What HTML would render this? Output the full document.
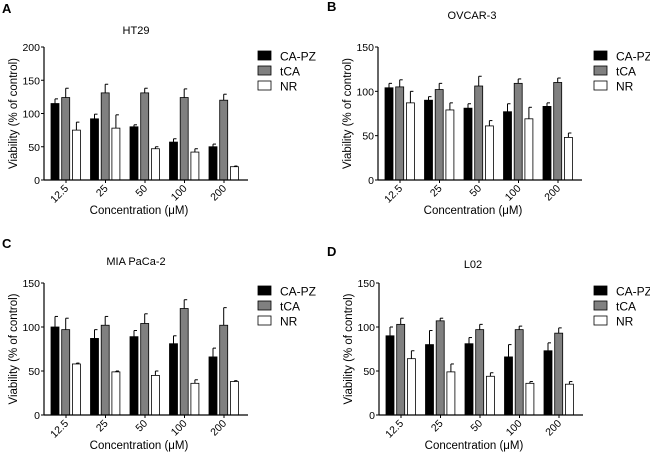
<!DOCTYPE html>
<html><head><meta charset="utf-8"><style>
body{margin:0;background:#fff;}
svg{display:block;font-family:"Liberation Sans",sans-serif;}
</style></head><body>
<svg id="fig" width="650" height="457" viewBox="0 0 650 457"></svg>
<script>
const categories = ["12.5","25","50","100","200"];
const seriesNames = ["CA-PZ","tCA","NR"];
const htCAPZ = [115,92,80,57,50], htCAPZErr = [7,7,3,5,4];
const htTCA = [124,131,131,124,120], htTCAErr = [14,13,7,13,9];
const htNR = [75,78,47,42,20], htNRErr = [12,20,3,5,1];
const ovCAPZ = [104,90,81,77,83], ovCAPZErr = [5,4,5,9,4];
const ovTCA = [105,102,106,109,110], ovTCAErr = [8,7,11,5,5];
const ovNR = [87,79,61,69,48], ovNRErr = [13,8,6,13,5];
const miaCAPZ = [100,87,89,81,66], miaCAPZErr = [12,10,7,9,10];
const miaTCA = [97,102,104,121,102], miaTCAErr = [13,10,11,10,20];
const miaNR = [58,49,45,36,38], miaNRErr = [1,1,5,4,1];
const l02CAPZ = [90,80,81,66,73], l02CAPZErr = [10,16,7,14,9];
const l02TCA = [103,107,97,97,93], l02TCAErr = [7,3,6,4,6];
const l02NR = [64,49,44,36,35], l02NRErr = [9,9,4,2,3];
const ticks200 = [0,50,100,150,200];
const ticks150 = [0,50,100,150];

const NS="http://www.w3.org/2000/svg";
const svg=document.getElementById('fig');
function mk(tag,attrs,parent,text){const e=document.createElementNS(NS,tag);for(const k in attrs)e.setAttribute(k,attrs[k]);if(text!==undefined)e.textContent=text;(parent||svg).appendChild(e);return e;}
const fills=["#000","#808080","#fff"];

function panel(o){
  const g=mk('g',{});
  
  
  const x0=o.ax, y0=o.y0, yTop=o.yTop, ymax=o.ticks[o.ticks.length-1];
  const yS=v=>y0-(v/ymax)*(y0-yTop);
  const xC=i=>x0+22+i*39.5;
  const t=mk('text',{x:o.lx,y:o.ly,'font-size':13,'font-weight':'bold'},g,o.letter);
  
  const ti=mk('text',{x:o.tx,y:o.ty,'font-size':11,'text-anchor':'middle'},g,o.title);
  
  // bars
  o.series.forEach((s,si)=>{
    s.vals.forEach((v,i)=>{
      const bx=xC(i)-15+si*10.7;
      const top=yS(v), et=yS(v+s.err[i]);
      const ln=mk('line',{x1:bx+4,x2:bx+4,y1:top,y2:et,stroke:'#000','stroke-width':1},g);
      
      const cap=mk('line',{x1:bx+4,x2:bx+7,y1:et,y2:et,stroke:'#000','stroke-width':1},g);
      
      const r=mk('rect',{x:bx,y:top,width:8,height:y0-top,fill:fills[si],stroke:'#000','stroke-width':0.8},g);
      
      
    });
  });
  // axes
  const ya=mk('line',{x1:x0,x2:x0,y1:yTop,y2:y0,stroke:'#000','stroke-width':1.2},g);
  
  const xa=mk('line',{x1:x0,x2:x0+204,y1:y0,y2:y0,stroke:'#000','stroke-width':1.2},g);
  
  o.ticks.forEach(tv=>{
    const y=yS(tv);
    mk('line',{x1:x0-3,x2:x0,y1:y,y2:y,stroke:'#000'},g);
    const tl=mk('text',{x:x0-4,y:y+4,'font-size':10.5,'text-anchor':'end'},g,tv);
    
  });
  categories.forEach((c,i)=>{
    const x=xC(i);
    mk('line',{x1:x,x2:x,y1:y0,y2:y0+3,stroke:'#000'},g);
    const tl=mk('text',{x:x+3,y:y0+9,'font-size':10.5,'text-anchor':'end',transform:`rotate(-45 ${x+3} ${y0+9})`},g,c);
    
  });
  const xt=mk('text',{x:x0+95,y:y0+34,'font-size':11.5,'text-anchor':'middle'},g,'Concentration (\u03bcM)');
  
  const yc=(y0+yTop)/2;
  const yt=mk('text',{x:x0-27,y:yc,'font-size':11.5,'text-anchor':'middle',transform:`rotate(-90 ${x0-27} ${yc})`},g,'Viability (% of control)');
  
  seriesNames.forEach((n,si)=>{
    const ly=o.legY+si*15;
    const le=mk('g',{},g);
    
    mk('rect',{x:o.legX,y:ly-5,width:13,height:9,fill:fills[si],stroke:'#000','stroke-width':0.8},le);
    mk('text',{x:o.legX+22,y:ly+4.5,'font-size':12},le,n);
  });
}
panel({letter:'A',lx:2,ly:13,title:'HT29',tx:136,ty:34,ax:44,y0:180,yTop:47,ticks:ticks200,legX:258,legY:56,
  series:[{vals:htCAPZ,err:htCAPZErr},{vals:htTCA,err:htTCAErr},{vals:htNR,err:htNRErr}]});
panel({letter:'B',lx:327,ly:11,title:'OVCAR-3',tx:472,ty:19,ax:378,y0:180,yTop:47,ticks:ticks150,legX:594,legY:56,
  series:[{vals:ovCAPZ,err:ovCAPZErr},{vals:ovTCA,err:ovTCAErr},{vals:ovNR,err:ovNRErr}]});
panel({letter:'C',lx:2,ly:248,title:'MIA PaCa-2',tx:136,ty:265,ax:44,y0:415,yTop:283,ticks:ticks150,legX:258,legY:291,
  series:[{vals:miaCAPZ,err:miaCAPZErr},{vals:miaTCA,err:miaTCAErr},{vals:miaNR,err:miaNRErr}]});
panel({letter:'D',lx:327,ly:256,title:'L02',tx:473,ty:268,ax:379,y0:415,yTop:283,ticks:ticks150,legX:594,legY:291,
  series:[{vals:l02CAPZ,err:l02CAPZErr},{vals:l02TCA,err:l02TCAErr},{vals:l02NR,err:l02NRErr}]});
</script>
</body></html>
